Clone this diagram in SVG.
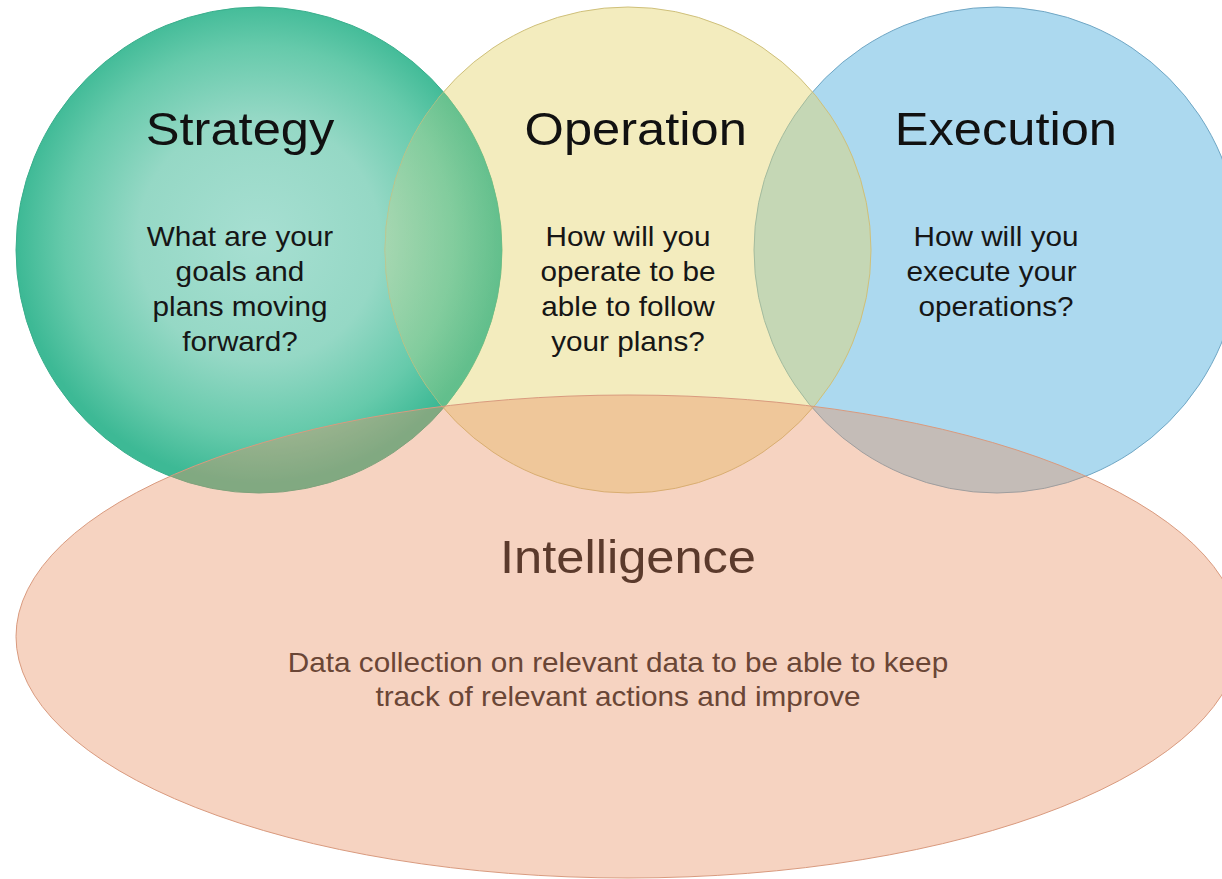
<svg xmlns="http://www.w3.org/2000/svg" width="1222" height="879" viewBox="0 0 1222 879">
  <defs>
    <radialGradient id="gGreen" cx="259" cy="240" r="243" gradientUnits="userSpaceOnUse">
      <stop offset="0" stop-color="#a7dfd2"/>
      <stop offset="0.5" stop-color="#95d8c5"/>
      <stop offset="0.8" stop-color="#66caab"/>
      <stop offset="1" stop-color="#3db995"/>
    </radialGradient>
    <clipPath id="clipOp">
      <circle cx="628" cy="250" r="243"/>
    </clipPath>
    <style>
      .title { font-family: "Liberation Sans", Arial, sans-serif; font-size: 46px; fill: #111111; text-anchor: middle; }
      .body { font-family: "Liberation Sans", Arial, sans-serif; font-size: 27px; fill: #161616; text-anchor: middle; }
      .ititle { font-family: "Liberation Sans", Arial, sans-serif; font-size: 46px; fill: #5b3a2c; text-anchor: middle; }
      .ibody { font-family: "Liberation Sans", Arial, sans-serif; font-size: 27px; fill: #6a4636; text-anchor: middle; }
    </style>
  </defs>
  <rect width="1222" height="879" fill="#ffffff"/>

  <g id="strategy">
    <circle cx="259" cy="250" r="243" fill="url(#gGreen)" stroke="#3aae8c" stroke-width="1"/>
  </g>

  <g id="execution">
    <circle cx="997" cy="250" r="243" fill="#acd9ef" stroke="#6fa6c4" stroke-width="1"/>
  </g>

  <g id="operation">
    <circle cx="628" cy="250" r="243" fill="#e4d46e" fill-opacity="0.45" stroke="#cfc07a" stroke-width="1"/>
    <circle cx="259" cy="250" r="243" fill="url(#gGreen)" fill-opacity="0.5" clip-path="url(#clipOp)"/>
  </g>

  <g id="intelligence">
    <ellipse cx="628" cy="636.5" rx="612" ry="241.5" fill="#e89164" fill-opacity="0.4" stroke="#d99a7e" stroke-width="1"/>
  </g>

  <g id="labels">
    <g transform="translate(240 0) scale(1.1 1)">
      <text class="title" x="0" y="145">Strategy</text>
      <text class="body" x="0" y="246">What are your</text>
      <text class="body" x="0" y="281">goals and</text>
      <text class="body" x="0" y="316">plans moving</text>
      <text class="body" x="0" y="351">forward?</text>
    </g>
    <g transform="translate(628 0) scale(1.1 1)">
      <text class="title" x="7" y="145">Operation</text>
      <text class="body" x="0" y="246">How will you</text>
      <text class="body" x="0" y="281">operate to be</text>
      <text class="body" x="0" y="316">able to follow</text>
      <text class="body" x="0" y="351">your plans?</text>
    </g>
    <g transform="translate(996 0) scale(1.1 1)">
      <text class="title" x="9" y="145">Execution</text>
      <text class="body" x="0" y="246">How will you</text>
      <text class="body" x="-4" y="281">execute your</text>
      <text class="body" x="0" y="316">operations?</text>
    </g>
    <g transform="translate(628 0) scale(1.1 1)">
      <text class="ititle" x="0" y="573">Intelligence</text>
    </g>
    <g transform="translate(618 0) scale(1.1 1)">
      <text class="ibody" x="0" y="672">Data collection on relevant data to be able to keep</text>
      <text class="ibody" x="0" y="706">track of relevant actions and improve</text>
    </g>
  </g>

  <g id="connectors"/>
</svg>
